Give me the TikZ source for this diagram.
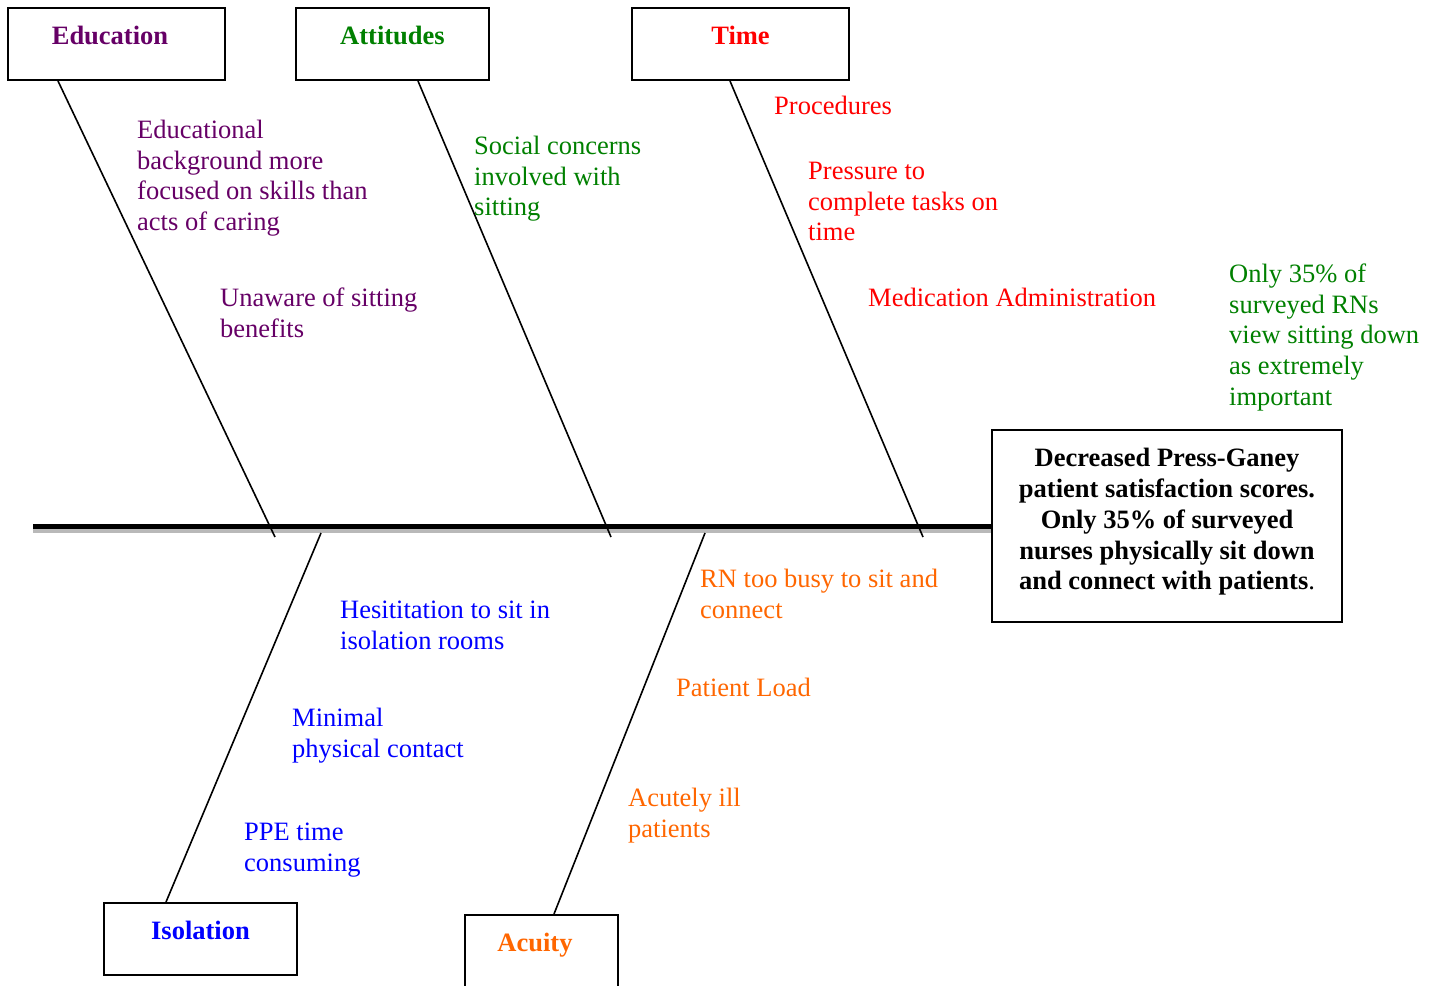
\documentclass[tikz,border=0pt]{standalone}
\usepackage{fontspec}
\setmainfont{Liberation Serif}
\usetikzlibrary{calc}
\definecolor{cpurple}{RGB}{102,0,102}
\definecolor{cgreen}{RGB}{0,128,0}
\definecolor{cred}{RGB}{255,0,0}
\definecolor{corange}{RGB}{255,102,0}
\definecolor{cblue}{RGB}{0,0,255}
\definecolor{cband}{RGB}{185,185,185}
\tikzset{
  lbl/.style={anchor=north west, inner sep=0pt, align=left, font=\fontsize{26.6}{31}\selectfont},
  catbox/.style={draw, line width=2bp, rectangle, inner xsep=0pt, inner ysep=9bp, text height=27bp, text depth=27bp, font=\bfseries\fontsize{26.6}{31}\selectfont},
  bone/.style={line width=1.6bp, black},
}
\newcommand{\fs}{\rule{0pt}{20bp}}
\begin{document}
\begin{tikzpicture}[x=1bp,y=-1bp]
\useasboundingbox (0,0) rectangle (1438,985);
% spine
\coordinate (sL) at (33,526.5);
\coordinate (sR) at (993,526.5);
\coordinate (bL) at (33,531);
\coordinate (bR) at (993,531);
\draw[cband, line width=4bp] (bL) -- (bR);
\draw[black, line width=5bp] (sL) -- (sR);
% effect box
\node[draw, line width=2bp, minimum width=350bp, minimum height=192bp, align=center, inner sep=0pt,
      font=\bfseries\fontsize{26.6}{31}\selectfont] (eff) at (1167,526)
  {Decreased Press-Ganey\\patient satisfaction scores.\\Only 35\% of surveyed\\nurses physically sit down\\and connect with patients\textmd{.}\rule[-14bp]{0pt}{0pt}};
% category boxes
\node[catbox, minimum width=217bp, text=cpurple] (edu) at (116.5,44) {\hspace*{-13bp}Education};
\node[catbox, minimum width=193bp, text=cgreen] (att) at (392.5,44) {Attitudes};
\node[catbox, minimum width=217bp, text=cred] (tim) at (740.5,44) {Time};
\node[catbox, minimum width=193bp, text=cblue] (iso) at (200.5,939) {Isolation};
\node[catbox, minimum width=153bp, text=corange] (acu) at (541.5,951) {\hspace*{-13bp}Acuity};
% bone ends on spine
\coordinate (eE) at (275,537);
\coordinate (aE) at (611,537);
\coordinate (tE) at (923,537);
\coordinate (iE) at (321,533);
\coordinate (cE) at (705,533);
\draw[bone] ($(edu.south west)+(51,0)$) -- (eE);
\draw[bone] ($(att.south west)+(123,0)$) -- (aE);
\draw[bone] ($(tim.south west)+(99,0)$) -- (tE);
\draw[bone] ($(iso.north west)+(63,0)$) -- (iE);
\draw[bone] ($(acu.north west)+(90,0)$) -- (cE);
% labels
\node[lbl, text=cpurple] (edu1) at (137,118) {\fs Educational\\background more\\focused on skills than\\acts of caring};
\node[lbl, text=cpurple] (edu2) at (220,286) {\fs Unaware of sitting\\benefits};
\node[lbl, text=cgreen] (att1) at (474,134) {\fs Social concerns\\involved with\\sitting};
\node[lbl, text=cred] (tim1) at (774,94) {\fs Procedures};
\node[lbl, text=cred] (tim2) at (808,159) {\fs Pressure to\\complete tasks on\\time};
\node[lbl, text=cred] (tim3) at (868,286) {\fs Medication Administration};
\node[lbl, text=cgreen] (note) at (1229,262) {\fs Only 35\% of\\surveyed RNs\\view sitting down\\as extremely\\important};
\node[lbl, text=corange] (acu1) at (700,567) {\fs RN too busy to sit and\\connect};
\node[lbl, text=corange] (acu2) at (676,676) {\fs Patient Load};
\node[lbl, text=corange] (acu3) at (628,786) {\fs Acutely ill\\patients};
\node[lbl, text=cblue] (iso1) at (340,598) {\fs Hesititation to sit in\\isolation rooms};
\node[lbl, text=cblue] (iso2) at (292,706) {\fs Minimal\\physical contact};
\node[lbl, text=cblue] (iso3) at (244,820) {\fs PPE time\\consuming};
\end{tikzpicture}
\end{document}
